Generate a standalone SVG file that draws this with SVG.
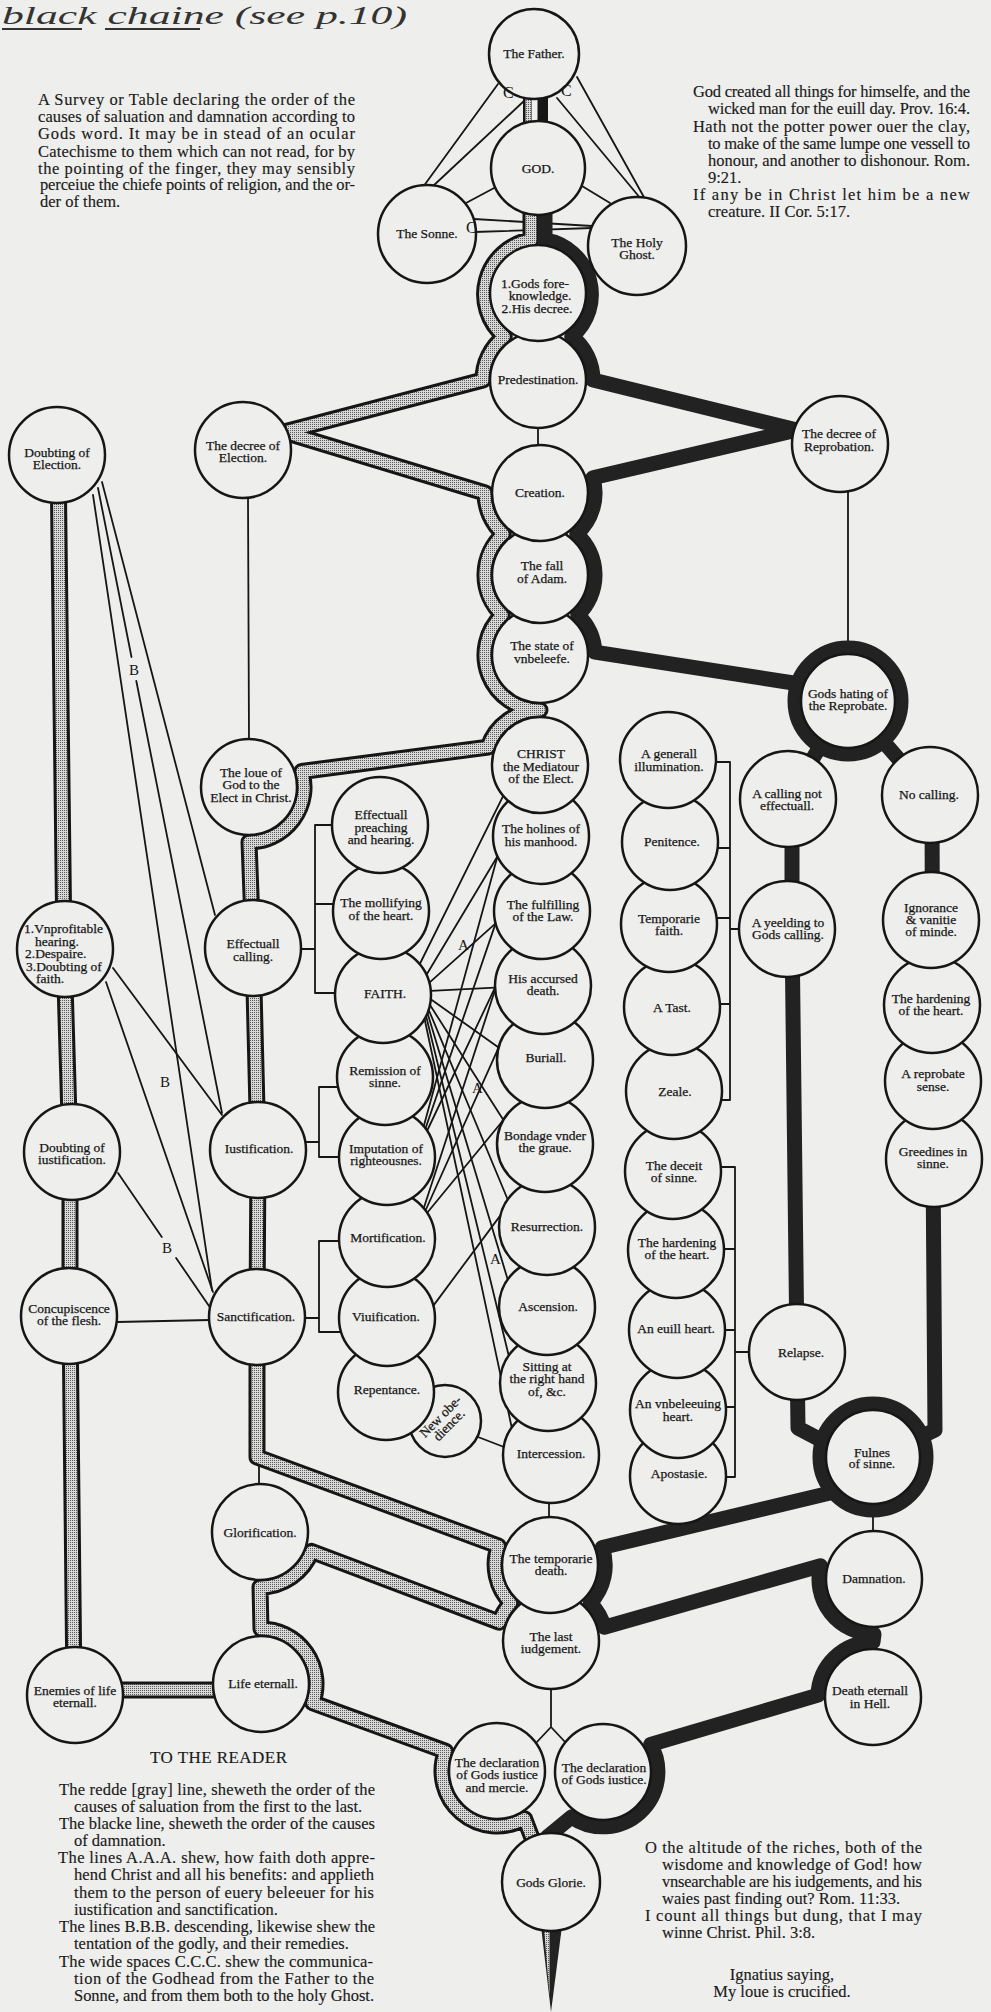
<svg xmlns="http://www.w3.org/2000/svg" width="991" height="2012" viewBox="0 0 991 2012">
<defs>
<pattern id="stip" width="2" height="2" patternUnits="userSpaceOnUse"><rect width="2" height="2" fill="#d8d8d8"/><rect width="1" height="1" fill="#5a5a5a"/></pattern>
<style>
.bg{fill:#eeeeec}
.nd{fill:#eeeeec;stroke:#161616;stroke-width:2.5}
.t{font-family:"Liberation Serif","Times New Roman",serif;font-size:13.5px;fill:#161616;stroke:#161616;stroke-width:0.25;text-anchor:middle}
.ts{font-family:"Liberation Serif","Times New Roman",serif;font-size:13.5px;fill:#161616;stroke:#161616;stroke-width:0.25}
.p{font-family:"Liberation Serif","Times New Roman",serif;font-size:16.5px;fill:#1a1a1a;stroke:#1a1a1a;stroke-width:0.15}
.lb{font-family:"Liberation Serif","Times New Roman",serif;font-size:15px;fill:#161616}
.ln{stroke:#161616;stroke-width:1.8;fill:none;stroke-linecap:round}
.go{stroke:#161616;stroke-width:17;fill:none;stroke-linejoin:round}
.gi{stroke:url(#stip);stroke-width:11;fill:none;stroke-linejoin:round}
.bk{stroke:#222;stroke-width:15;fill:none;stroke-linejoin:round}
.rg{stroke:#222;stroke-width:13;fill:none}
</style>
</defs>
<rect class="bg" x="0" y="0" width="991" height="2012"/>

<g id="handnote">
<text x="2" y="24" font-family="Liberation Serif, serif" font-style="italic" font-size="26" fill="#333" textLength="405" lengthAdjust="spacingAndGlyphs">black chaine (see p.10)</text>
<line x1="2" y1="29" x2="82" y2="29" stroke="#333" stroke-width="2"/>
<line x1="105" y1="29" x2="200" y2="29" stroke="#333" stroke-width="2"/>
</g>

<g id="intro-text" class="p">
<text x="38" y="105" textLength="317" lengthAdjust="spacing">A Survey or Table declaring the order of the</text>
<text x="38" y="122" textLength="317" lengthAdjust="spacing">causes of saluation and damnation according to</text>
<text x="38" y="139" textLength="317" lengthAdjust="spacing">Gods word. It may be in stead of an ocular</text>
<text x="38" y="157" textLength="317" lengthAdjust="spacing">Catechisme to them which can not read, for by</text>
<text x="38" y="174" textLength="317" lengthAdjust="spacing">the pointing of the finger, they may sensibly</text>
<text x="40" y="190" textLength="315" lengthAdjust="spacing">perceiue the chiefe points of religion, and the or-</text>
<text x="40" y="207">der of them.</text>
</g>

<g id="scripture-top" class="p">
<text x="693" y="97" textLength="277" lengthAdjust="spacing">God created all things for himselfe, and the</text>
<text x="708" y="114" textLength="262" lengthAdjust="spacing">wicked man for the euill day. Prov. 16:4.</text>
<text x="693" y="132" textLength="277" lengthAdjust="spacing">Hath not the potter power ouer the clay,</text>
<text x="708" y="149" textLength="262" lengthAdjust="spacing">to make of the same lumpe one vessell to</text>
<text x="708" y="166" textLength="262" lengthAdjust="spacing">honour, and another to dishonour. Rom.</text>
<text x="708" y="183">9:21.</text>
<text x="693" y="200" textLength="277" lengthAdjust="spacing">If any be in Christ let him be a new</text>
<text x="708" y="217">creature. II Cor. 5:17.</text>
</g>

<g id="reader-text" class="p">
<text x="150" y="1763" font-size="17" textLength="137" lengthAdjust="spacing">TO THE READER</text>
<text x="59" y="1795" textLength="316" lengthAdjust="spacing">The redde [gray] line, sheweth the order of the</text>
<text x="74" y="1812">causes of saluation from the first to the last.</text>
<text x="59" y="1829" textLength="316" lengthAdjust="spacing">The blacke line, sheweth the order of the causes</text>
<text x="74" y="1846">of damnation.</text>
<text x="58" y="1863" textLength="317" lengthAdjust="spacing">The lines A.A.A. shew, how faith doth appre-</text>
<text x="74" y="1880" textLength="300" lengthAdjust="spacing">hend Christ and all his benefits: and applieth</text>
<text x="74" y="1898" textLength="300" lengthAdjust="spacing">them to the person of euery beleeuer for his</text>
<text x="74" y="1915">iustification and sanctification.</text>
<text x="59" y="1932" textLength="316" lengthAdjust="spacing">The lines B.B.B. descending, likewise shew the</text>
<text x="74" y="1949">tentation of the godly, and their remedies.</text>
<text x="59" y="1967" textLength="314" lengthAdjust="spacing">The wide spaces C.C.C. shew the communica-</text>
<text x="74" y="1984" textLength="300" lengthAdjust="spacing">tion of the Godhead from the Father to the</text>
<text x="74" y="2001" textLength="300" lengthAdjust="spacing">Sonne, and from them both to the holy Ghost.</text>
</g>

<g id="scripture-bottom" class="p">
<text x="645" y="1853" textLength="277" lengthAdjust="spacing">O the altitude of the riches, both of the</text>
<text x="662" y="1870" textLength="260" lengthAdjust="spacing">wisdome and knowledge of God! how</text>
<text x="662" y="1887" textLength="260" lengthAdjust="spacing">vnsearchable are his iudgements, and his</text>
<text x="662" y="1904">waies past finding out? Rom. 11:33.</text>
<text x="645" y="1921" textLength="277" lengthAdjust="spacing">I count all things but dung, that I may</text>
<text x="662" y="1938">winne Christ. Phil. 3:8.</text>
<text x="782" y="1980" text-anchor="middle">Ignatius saying,</text>
<text x="782" y="1997" text-anchor="middle">My loue is crucified.</text>
</g>

<g id="connectors">
<line class="ln" x1="498" y1="84" x2="423" y2="187"/>
<line class="ln" x1="525" y1="100" x2="432" y2="187"/>
<line class="ln" x1="577" y1="77" x2="645" y2="199"/>
<line class="ln" x1="557" y1="98" x2="641" y2="199"/>
<line class="ln" x1="474" y1="219" x2="592" y2="226"/>
<line class="ln" x1="474" y1="232" x2="592" y2="228"/>
<line class="ln" x1="496" y1="187" x2="466" y2="203"/>
<line class="ln" x1="582" y1="186" x2="610" y2="203"/>
<line class="ln" x1="538" y1="426" x2="538" y2="448"/>
<line class="ln" x1="248" y1="497" x2="249" y2="741"/>
<line class="ln" x1="848" y1="490" x2="848" y2="643"/>
<line class="ln" x1="549" y1="1500" x2="549" y2="1519"/>
<line class="ln" x1="259" y1="1460" x2="259" y2="1486"/>
<line class="ln" x1="873" y1="1515" x2="873" y2="1533"/>
<path class="ln" d="M551 1687 L551 1727 L536 1743 M551 1727 L566 1743"/>
<line class="ln" x1="117" y1="1322" x2="210" y2="1320"/>
<line class="ln" x1="478" y1="1437" x2="504" y2="1447"/>
<path class="ln" d="M253 949 H315 M315 825 V993 M315 825 H380 M315 904 H381 M315 993 H383"/>
<path class="ln" d="M258 1142 H319 M319 1087 V1157 M319 1087 H385 M319 1157 H387"/>
<path class="ln" d="M257 1318 H319 M319 1241 V1332 M319 1241 H387 M319 1332 H387"/>
<path class="ln" d="M668 762 H730 M730 762 V1100 M670 848 H730 M669 918 H730 M672 1004 H730 M674 1100 H730 M730 929 H787"/>
<path class="ln" d="M673 1167 H735 M735 1167 V1477 M676 1249 H735 M677 1330 H735 M678 1407 H735 M678 1477 H735 M735 1352 H797"/>
<line class="ln" x1="93" y1="495" x2="212" y2="1290"/>
<line class="ln" x1="98" y1="488" x2="131.5" y2="657"/>
<line class="ln" x1="136.3" y1="681" x2="222" y2="1113"/>
<line class="ln" x1="102" y1="482" x2="215" y2="915"/>
<line class="ln" x1="113" y1="968" x2="222" y2="1115"/>
<line class="ln" x1="106" y1="982" x2="213" y2="1292"/>
<line class="ln" x1="118" y1="1173" x2="161.8" y2="1237"/>
<line class="ln" x1="176.1" y1="1258" x2="209" y2="1306"/>
<g class="ln">
<line x1="419.8" y1="964" x2="503.2" y2="795.9"/>
<line x1="426.5" y1="974.7" x2="497.5" y2="856.3"/>
<line x1="429.4" y1="982.6" x2="495.6" y2="923.4"/>
<line x1="430.8" y1="990.8" x2="495" y2="987.7"/>
<line x1="430.8" y1="999.2" x2="498.6" y2="1047.6"/>
<line x1="430" y1="1005" x2="503.4" y2="1120"/>
<line x1="428.7" y1="1009.8" x2="507.7" y2="1199.5"/>
<line x1="427.5" y1="1013" x2="507.7" y2="1279.5"/>
<line x1="426.1" y1="1016" x2="508.7" y2="1355.5"/>
<line x1="424.6" y1="1019" x2="511.7" y2="1427.5"/>
<line x1="423.8" y1="1126" x2="497.5" y2="856.3"/>
<line x1="425.5" y1="1128.5" x2="495.6" y2="923.4"/>
<line x1="427" y1="1131" x2="495" y2="987.7"/>
<line x1="423.8" y1="1208" x2="495" y2="990"/>
<line x1="425.5" y1="1210.5" x2="498.6" y2="1047.6"/>
<line x1="427" y1="1213" x2="503.4" y2="1120"/>
<line x1="433.4" y1="1305.6" x2="500.4" y2="1215.4"/>
</g>
<path class="go" d="M531 213 L531 240 A55 55 0 0 0 504.3 336.5 A55 55 0 0 0 483 380 L284 432 L485 493 A55 55 0 0 0 503.3 534 A55 55 0 0 0 502.25 615 A55 55 0 0 0 540 710 A55 55 0 0 0 488 747.1 L301.8 771.5 A55 55 0 0 1 249 842 L253 948 L258 1150 L257 1317 L257 1457 L498.4 1546 A55 55 0 0 0 510.7 1603 A55 55 0 0 0 499.3 1622.2 L311.5 1551.4 A55 55 0 0 1 260 1587 L261 1629 A55 55 0 0 1 312.7 1702.8 L445.65 1751.3 A55 55 0 0 0 524.5 1818.6 L532 1838"/>
<path class="go" d="M58 455 L64 949 L70 1152 L70 1316 L74 1690 L258 1690"/>
<path class="bk" d="M545 213 L545 240 A55 55 0 0 1 571.7 336.5 A55 55 0 0 1 593 380 L797 430 L592.9 477.8 A55 55 0 0 1 576.7 534 A55 55 0 0 1 577.75 615 A55 55 0 0 1 594.9 652.1 L800 684"/>
<path class="bk" d="M848 701 L788 799 M848 701 L930 795 M792 800 L792 929 L797 1352 L798 1428 L838 1449 M932 795 L933 1159 L935 1430 L908 1443"/>
<path class="bk" d="M830 1493 L602.2 1547.5 A55 55 0 0 1 590.3 1603 A55 55 0 0 1 604.3 1627.3 L820.6 1565.7 A55 55 0 0 0 874 1634 L873 1642 A55 55 0 0 0 818 1695.1 L650.6 1744.5 A55 55 0 0 1 571.5 1817 L546 1838"/>
<circle class="rg" cx="848" cy="701" r="54"/>
<circle class="rg" cx="873" cy="1457" r="54"/>
<path class="gi" d="M531 213 L531 240 A55 55 0 0 0 504.3 336.5 A55 55 0 0 0 483 380 L284 432 L485 493 A55 55 0 0 0 503.3 534 A55 55 0 0 0 502.25 615 A55 55 0 0 0 540 710 A55 55 0 0 0 488 747.1 L301.8 771.5 A55 55 0 0 1 249 842 L253 948 L258 1150 L257 1317 L257 1457 L498.4 1546 A55 55 0 0 0 510.7 1603 A55 55 0 0 0 499.3 1622.2 L311.5 1551.4 A55 55 0 0 1 260 1587 L261 1629 A55 55 0 0 1 312.7 1702.8 L445.65 1751.3 A55 55 0 0 0 524.5 1818.6 L532 1838"/>
<path class="gi" d="M58 455 L64 949 L70 1152 L70 1316 L74 1690 L258 1690"/>
<rect x="523" y="98" width="25" height="25" fill="#161616"/>
<rect x="525.5" y="98" width="6" height="25" fill="url(#stip)"/>
<rect x="532" y="98" width="5.5" height="25" fill="#eeeeec"/>
<path d="M541 1926 L562 1926 L551 2012 Z" fill="#222"/>
<path d="M543.8 1926 L549.5 1926 L549.5 1995 Z" fill="url(#stip)"/>
</g>

<g id="n-father"><circle class="nd" cx="534" cy="54" r="45"/><text class="t" x="534" y="58" font-size="14">The Father.</text></g>
<g id="n-god"><circle class="nd" cx="538" cy="168" r="47"/><text class="t" x="538" y="173" font-size="14">GOD.</text></g>
<g id="n-sonne"><circle class="nd" cx="427" cy="234" r="49"/><text class="t" x="427" y="238" font-size="14">The Sonne.</text></g>
<g id="n-holyghost"><circle class="nd" cx="637" cy="246" r="49"/><text class="t" font-size="14"><tspan x="637" y="247">The Holy</tspan><tspan x="637" y="259">Ghost.</tspan></text></g>
<g id="n-predestination"><circle class="nd" cx="538" cy="380" r="48"/><text class="t" x="538" y="384">Predestination.</text></g>
<g id="n-foreknowledge"><circle class="nd" cx="538" cy="293" r="48"/><text class="t"><tspan x="535" y="288">1.Gods fore-</tspan><tspan x="540" y="300">knowledge.</tspan><tspan x="537" y="313">2.His decree.</tspan></text></g>

<g id="n-unbelief"><circle class="nd" cx="540" cy="655" r="48"/><text class="t"><tspan x="542" y="650">The state of</tspan><tspan x="542" y="663">vnbeleefe.</tspan></text></g>
<g id="n-fall"><circle class="nd" cx="540" cy="575" r="48"/><text class="t"><tspan x="542" y="570">The fall</tspan><tspan x="542" y="583">of Adam.</tspan></text></g>
<g id="n-creation"><circle class="nd" cx="540" cy="493" r="48"/><text class="t" x="540" y="497">Creation.</text></g>

<g id="n-intercession"><circle class="nd" cx="551" cy="1455" r="48"/><text class="t" x="551" y="1458">Intercession.</text></g>
<g id="n-sitting"><circle class="nd" cx="548" cy="1383" r="48"/><text class="t"><tspan x="547" y="1371">Sitting at</tspan><tspan x="547" y="1383">the right hand</tspan><tspan x="547" y="1396">of, &amp;c.</tspan></text></g>
<g id="n-ascension"><circle class="nd" cx="547" cy="1307" r="48"/><text class="t" x="548" y="1311">Ascension.</text></g>
<g id="n-resurrection"><circle class="nd" cx="547" cy="1227" r="48"/><text class="t" x="547" y="1231">Resurrection.</text></g>
<g id="n-bondage"><circle class="nd" cx="545" cy="1144" r="48"/><text class="t"><tspan x="545" y="1140">Bondage vnder</tspan><tspan x="545" y="1152">the graue.</tspan></text></g>
<g id="n-buriall"><circle class="nd" cx="545" cy="1060" r="48"/><text class="t" x="546" y="1062">Buriall.</text></g>
<g id="n-accursed"><circle class="nd" cx="543" cy="986" r="48"/><text class="t"><tspan x="543" y="983">His accursed</tspan><tspan x="543" y="995">death.</tspan></text></g>
<g id="n-fulfilling"><circle class="nd" cx="542" cy="911" r="48"/><text class="t"><tspan x="543" y="909">The fulfilling</tspan><tspan x="543" y="921">of the Law.</tspan></text></g>
<g id="n-holines"><circle class="nd" cx="541" cy="836" r="48"/><text class="t"><tspan x="541" y="833">The holines of</tspan><tspan x="541" y="846">his manhood.</tspan></text></g>
<g id="n-christ"><circle class="nd" cx="540" cy="765" r="48"/><text class="t"><tspan x="541" y="758">CHRIST</tspan><tspan x="541" y="771">the Mediatour</tspan><tspan x="541" y="783">of the Elect.</tspan></text></g>

<g id="n-lastjudgement"><circle class="nd" cx="551" cy="1641" r="48"/><text class="t"><tspan x="551" y="1641">The last</tspan><tspan x="551" y="1653">iudgement.</tspan></text></g>
<g id="n-tempdeath"><circle class="nd" cx="550" cy="1565" r="48"/><text class="t"><tspan x="551" y="1563">The temporarie</tspan><tspan x="551" y="1575">death.</tspan></text></g>
<g id="n-declmercy"><circle class="nd" cx="497" cy="1771" r="48"/><text class="t"><tspan x="497" y="1767">The declaration</tspan><tspan x="497" y="1779">of Gods iustice</tspan><tspan x="497" y="1792">and mercie.</tspan></text></g>
<g id="n-decljustice"><circle class="nd" cx="603" cy="1772" r="48"/><text class="t"><tspan x="604" y="1772">The declaration</tspan><tspan x="604" y="1784">of Gods iustice.</tspan></text></g>
<g id="n-godsglorie"><circle class="nd" cx="551" cy="1882" r="49"/><text class="t" x="551" y="1887">Gods Glorie.</text></g>

<g id="n-decreeelection"><circle class="nd" cx="243" cy="450" r="48"/><text class="t"><tspan x="243" y="450">The decree of</tspan><tspan x="243" y="462">Election.</tspan></text></g>
<g id="n-loue"><circle class="nd" cx="249" cy="787" r="48"/><text class="t"><tspan x="251" y="777">The loue of</tspan><tspan x="251" y="789">God to the</tspan><tspan x="251" y="802">Elect in Christ.</tspan></text></g>
<g id="n-effcalling"><circle class="nd" cx="253" cy="948" r="48"/><text class="t"><tspan x="253" y="948">Effectuall</tspan><tspan x="253" y="961">calling.</tspan></text></g>
<g id="n-iustification"><circle class="nd" cx="258" cy="1150" r="48"/><text class="t" x="259" y="1153">Iustification.</text></g>
<g id="n-sanctification"><circle class="nd" cx="257" cy="1317" r="48"/><text class="t" x="256" y="1321">Sanctification.</text></g>
<g id="n-glorification"><circle class="nd" cx="260" cy="1532" r="48"/><text class="t" x="260" y="1537">Glorification.</text></g>
<g id="n-lifeeternall"><circle class="nd" cx="261" cy="1684" r="48"/><text class="t" x="263" y="1688">Life eternall.</text></g>

<g id="n-doubtelection"><circle class="nd" cx="57" cy="455" r="48"/><text class="t"><tspan x="57" y="457">Doubting of</tspan><tspan x="57" y="469">Election.</tspan></text></g>
<g id="n-unprofitable"><circle class="nd" cx="65" cy="949" r="48"/><text class="ts"><tspan x="24" y="933">1.Vnprofitable</tspan><tspan x="35" y="946">hearing.</tspan><tspan x="25" y="958">2.Despaire.</tspan><tspan x="26" y="971">3.Doubting of</tspan><tspan x="36" y="983">faith.</tspan></text></g>
<g id="n-doubtjust"><circle class="nd" cx="72" cy="1152" r="48"/><text class="t"><tspan x="72" y="1152">Doubting of</tspan><tspan x="72" y="1164">iustification.</tspan></text></g>
<g id="n-concupiscence"><circle class="nd" cx="69" cy="1316" r="48"/><text class="t"><tspan x="69" y="1313">Concupiscence</tspan><tspan x="69" y="1325">of the flesh.</tspan></text></g>
<g id="n-enemies"><circle class="nd" cx="75" cy="1695" r="48"/><text class="t"><tspan x="75" y="1695">Enemies of life</tspan><tspan x="75" y="1707">eternall.</tspan></text></g>

<g id="n-newobedience"><circle class="nd" cx="445" cy="1421" r="36"/><text class="t" font-size="12" transform="rotate(-45 445 1421)"><tspan x="445" y="1419">New obe-</tspan><tspan x="445" y="1431">dience.</tspan></text></g>
<g id="n-repentance"><circle class="nd" cx="386" cy="1392" r="48"/><text class="t" x="387" y="1394">Repentance.</text></g>
<g id="n-viuification"><circle class="nd" cx="387" cy="1318" r="48"/><text class="t" x="386" y="1321">Viuification.</text></g>
<g id="n-mortification"><circle class="nd" cx="387" cy="1239" r="48"/><text class="t" x="388" y="1242">Mortification.</text></g>
<g id="n-imputation"><circle class="nd" cx="387" cy="1157" r="48"/><text class="t"><tspan x="386" y="1153">Imputation of</tspan><tspan x="386" y="1165">righteousnes.</tspan></text></g>
<g id="n-remission"><circle class="nd" cx="385" cy="1077" r="48"/><text class="t"><tspan x="385" y="1075">Remission of</tspan><tspan x="385" y="1087">sinne.</tspan></text></g>
<g id="n-faith"><circle class="nd" cx="383" cy="995" r="48"/><text class="t" x="385" y="998" font-size="14">FAITH.</text></g>
<g id="n-mollifying"><circle class="nd" cx="381" cy="911" r="48"/><text class="t"><tspan x="381" y="907">The mollifying</tspan><tspan x="381" y="920">of the heart.</tspan></text></g>
<g id="n-preaching"><circle class="nd" cx="380" cy="825" r="48"/><text class="t"><tspan x="381" y="819">Effectuall</tspan><tspan x="381" y="832">preaching</tspan><tspan x="381" y="844">and hearing.</tspan></text></g>

<g id="n-apostasie"><circle class="nd" cx="678" cy="1476" r="48"/><text class="t" x="679" y="1478">Apostasie.</text></g>
<g id="n-vnbeleeuing"><circle class="nd" cx="678" cy="1410" r="48"/><text class="t"><tspan x="678" y="1408">An vnbeleeuing</tspan><tspan x="678" y="1421">heart.</tspan></text></g>
<g id="n-euillheart"><circle class="nd" cx="677" cy="1330" r="48"/><text class="t" x="676" y="1333">An euill heart.</text></g>
<g id="n-hardening2"><circle class="nd" cx="676" cy="1250" r="48"/><text class="t"><tspan x="677" y="1247">The hardening</tspan><tspan x="677" y="1259">of the heart.</tspan></text></g>
<g id="n-deceit"><circle class="nd" cx="673" cy="1171" r="48"/><text class="t"><tspan x="674" y="1170">The deceit</tspan><tspan x="674" y="1182">of sinne.</tspan></text></g>
<g id="n-zeale"><circle class="nd" cx="674" cy="1091" r="48"/><text class="t" x="675" y="1096">Zeale.</text></g>
<g id="n-tast"><circle class="nd" cx="672" cy="1007" r="48"/><text class="t" x="672" y="1012">A Tast.</text></g>
<g id="n-tempfaith"><circle class="nd" cx="669" cy="924" r="48"/><text class="t"><tspan x="669" y="923">Temporarie</tspan><tspan x="669" y="935">faith.</tspan></text></g>
<g id="n-penitence"><circle class="nd" cx="670" cy="842" r="48"/><text class="t" x="672" y="846">Penitence.</text></g>
<g id="n-illumination"><circle class="nd" cx="668" cy="760" r="48"/><text class="t"><tspan x="669" y="758">A generall</tspan><tspan x="669" y="771">illumination.</tspan></text></g>

<g id="n-reprobation"><circle class="nd" cx="840" cy="444" r="48"/><text class="t"><tspan x="839" y="438">The decree of</tspan><tspan x="839" y="451">Reprobation.</tspan></text></g>
<g id="n-hating"><circle class="nd" cx="848" cy="701" r="47"/><text class="t"><tspan x="848" y="698">Gods hating of</tspan><tspan x="848" y="710">the Reprobate.</tspan></text></g>
<g id="n-notEffectuall"><circle class="nd" cx="788" cy="799" r="48"/><text class="t"><tspan x="787" y="798">A calling not</tspan><tspan x="787" y="810">effectuall.</tspan></text></g>
<g id="n-yeelding"><circle class="nd" cx="787" cy="929" r="48"/><text class="t"><tspan x="788" y="927">A yeelding to</tspan><tspan x="788" y="939">Gods calling.</tspan></text></g>
<g id="n-relapse"><circle class="nd" cx="797" cy="1352" r="48"/><text class="t" x="801" y="1357">Relapse.</text></g>
<g id="n-greedines"><circle class="nd" cx="934" cy="1159" r="48"/><text class="t"><tspan x="933" y="1156">Greedines in</tspan><tspan x="933" y="1168">sinne.</tspan></text></g>
<g id="n-reprobsense"><circle class="nd" cx="933" cy="1081" r="48"/><text class="t"><tspan x="933" y="1078">A reprobate</tspan><tspan x="933" y="1091">sense.</tspan></text></g>
<g id="n-hardening1"><circle class="nd" cx="932" cy="1005" r="48"/><text class="t"><tspan x="931" y="1003">The hardening</tspan><tspan x="931" y="1015">of the heart.</tspan></text></g>
<g id="n-ignorance"><circle class="nd" cx="931" cy="920" r="48"/><text class="t"><tspan x="931" y="912">Ignorance</tspan><tspan x="931" y="924">&amp; vanitie</tspan><tspan x="931" y="936">of minde.</tspan></text></g>
<g id="n-nocalling"><circle class="nd" cx="930" cy="795" r="48"/><text class="t" x="929" y="799">No calling.</text></g>
<g id="n-fulnes"><circle class="nd" cx="873" cy="1457" r="47"/><text class="t"><tspan x="872" y="1457">Fulnes</tspan><tspan x="872" y="1468">of sinne.</tspan></text></g>
<g id="n-damnation"><circle class="nd" cx="874" cy="1579" r="48"/><text class="t" x="874" y="1583">Damnation.</text></g>
<g id="n-deatheternall"><circle class="nd" cx="873" cy="1697" r="48"/><text class="t"><tspan x="870" y="1695">Death eternall</tspan><tspan x="870" y="1708">in Hell.</tspan></text></g>

<g id="labels" class="lb">
<text x="503" y="98" font-size="16">C</text>
<text x="561" y="96" font-size="16">C</text>
<text x="466" y="233" font-size="16">C</text>
<text x="458" y="950">A</text>
<text x="472" y="1093">A</text>
<text x="490" y="1264">A</text>
<text x="129" y="675">B</text>
<text x="160" y="1087">B</text>
<text x="162" y="1253">B</text>
</g>
</svg>
